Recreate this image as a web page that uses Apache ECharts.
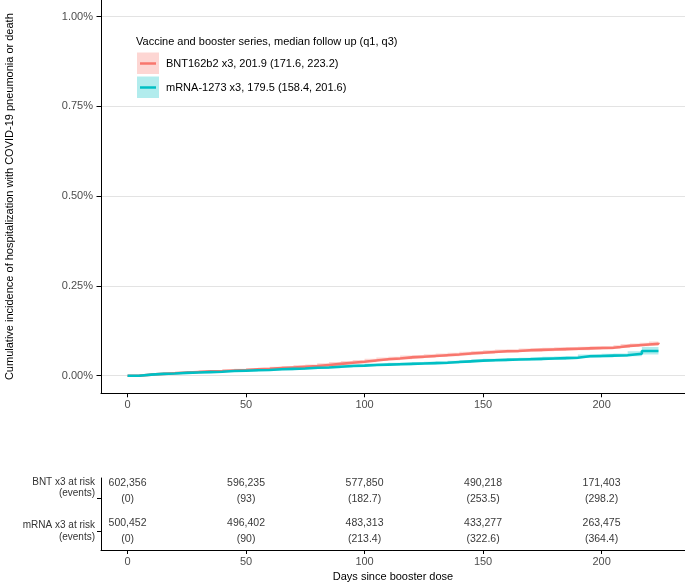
<!DOCTYPE html>
<html><head><meta charset="utf-8">
<script src="https://cdn.jsdelivr.net/npm/echarts@6/dist/echarts.min.js"></script>
<style>html,body{margin:0;padding:0;background:#fff}#c{width:685px;height:583px}</style>
</head><body><div id="c"></div>
<script>
// ---- data (cumulative incidence in %) ----
const xTicks = [0, 50, 100, 150, 200];
const yTicks = [0, 0.25, 0.5, 0.75, 1.0];

const bntName = 'BNT162b2 x3, 201.9 (171.6, 223.2)';
const mrnaName = 'mRNA-1273 x3, 179.5 (158.4, 201.6)';
const legendTitle = 'Vaccine and booster series, median follow up (q1, q3)';

const bntDays = [0,5,10,15,20,25,30,35,40,45,50,55,60,65,70,75,80,85,90,95,100,105,110,115,120,125,130,135,140,145,150,155,160,165,170,175,180,185,190,195,200,205,208,212,216,220,224];
const bntCum  = [0,0.003,0.005,0.007,0.009,0.0105,0.012,0.013,0.0145,0.016,0.0178,0.019,0.021,0.023,0.025,0.027,0.030,0.033,0.036,0.039,0.0425,0.046,0.048,0.051,0.053,0.055,0.057,0.059,0.062,0.064,0.066,0.068,0.069,0.071,0.072,0.073,0.074,0.075,0.076,0.077,0.078,0.080,0.083,0.085,0.087,0.089,0.092];
const bntLow  = [0,0.0015,0.0035,0.005,0.0065,0.008,0.009,0.010,0.0115,0.0125,0.0145,0.0155,0.017,0.019,0.0205,0.0225,0.025,0.028,0.031,0.034,0.0375,0.041,0.043,0.046,0.048,0.050,0.052,0.054,0.057,0.059,0.061,0.063,0.064,0.066,0.067,0.068,0.069,0.070,0.071,0.072,0.073,0.075,0.078,0.080,0.082,0.083,0.086];
const bntHigh = [0,0.0045,0.0065,0.009,0.0115,0.013,0.015,0.016,0.0175,0.0195,0.021,0.0225,0.025,0.027,0.0295,0.0315,0.035,0.038,0.041,0.044,0.0475,0.051,0.053,0.056,0.058,0.060,0.062,0.064,0.067,0.069,0.071,0.073,0.074,0.076,0.077,0.078,0.079,0.080,0.081,0.082,0.083,0.085,0.088,0.090,0.092,0.095,0.098];

const mrnaDays = [0,5,10,15,20,25,30,35,40,45,50,55,60,65,70,75,80,85,90,95,100,105,110,115,120,125,130,135,140,145,150,155,160,165,170,175,180,185,190,195,200,205,211,217,224];
const mrnaCum  = [0,0.003,0.005,0.006,0.008,0.009,0.010,0.011,0.013,0.014,0.015,0.016,0.018,0.019,0.020,0.022,0.023,0.025,0.027,0.028,0.030,0.031,0.032,0.033,0.034,0.035,0.036,0.038,0.040,0.042,0.043,0.044,0.045,0.046,0.047,0.048,0.049,0.050,0.054,0.055,0.056,0.057,0.061,0.069,0.069];
const mrnaLow  = [0,0.0015,0.003,0.004,0.0055,0.0065,0.0075,0.0085,0.010,0.011,0.012,0.013,0.0145,0.0155,0.0165,0.018,0.019,0.021,0.023,0.024,0.026,0.027,0.028,0.029,0.030,0.031,0.032,0.034,0.036,0.038,0.039,0.040,0.041,0.042,0.0425,0.0435,0.0445,0.0455,0.049,0.050,0.051,0.052,0.054,0.059,0.059];
const mrnaHigh = [0,0.0045,0.007,0.008,0.0105,0.0115,0.0125,0.0135,0.016,0.017,0.018,0.019,0.0215,0.0225,0.0235,0.026,0.027,0.029,0.031,0.032,0.034,0.035,0.036,0.037,0.038,0.039,0.040,0.042,0.044,0.046,0.047,0.048,0.049,0.050,0.0515,0.0525,0.0535,0.0545,0.059,0.060,0.061,0.062,0.068,0.080,0.080];

// risk table
const tableDays = [0, 50, 100, 150, 200];
const bntAtRisk = [602356, 596235, 577850, 490218, 171403];
const bntEvents = ['0', '93', '182.7', '253.5', '298.2'];
const mrnaAtRisk = [500452, 496402, 483313, 433277, 263475];
const mrnaEvents = ['0', '90', '213.4', '322.6', '364.4'];
const rowLabels = ['BNT x3 at risk\n(events)', 'mRNA x3 at risk\n(events)'];

// ---- chart ----
const FONT = 'Liberation Sans, Arial, Helvetica, sans-serif';
const RED = '#F8766D', TEAL = '#00BFC4';
const RED_BAND = 'rgba(248,118,109,0.3)', TEAL_BAND = 'rgba(0,191,196,0.3)';
const zip = (a, b) => a.map((v, i) => [v, b[i]]);
const fmt = n => n.toLocaleString('en-US');

// step ("end") polygon of a confidence band, mapped through the axes
function bandRenderer(days, lo, hi, color) {
  return function (params, api) {
    const up = [], dn = [];
    for (let i = 0; i < days.length; i++) {
      up.push(api.coord([days[i], hi[i]]));
      dn.push(api.coord([days[i], lo[i]]));
      if (i < days.length - 1) {
        up.push(api.coord([days[i + 1], hi[i]]));
        dn.push(api.coord([days[i + 1], lo[i]]));
      }
    }
    return {type: 'polygon', shape: {points: up.concat(dn.reverse())}, style: {fill: color}};
  };
}

const chart = echarts.init(document.getElementById('c'), null, {renderer: 'canvas'});
const axisLineStyle = {show: true, onZero: false, lineStyle: {color: '#000', width: 1}};

chart.setOption({
  animation: false,
  textStyle: {fontFamily: FONT},
  title: {
    text: legendTitle, left: 136, top: 36, padding: 0,
    textStyle: {fontFamily: FONT, fontSize: 11, fontWeight: 'normal', color: '#000'}
  },
  legend: [
    {
      data: [{name: 'BNT band', itemStyle: {color: RED_BAND}}, {name: 'mRNA band', itemStyle: {color: TEAL_BAND}}],
      left: 137, top: 52.5, orient: 'vertical', icon: 'rect', itemWidth: 22, itemHeight: 21.5, itemGap: 2.5,
      formatter: () => '', selectedMode: false, padding: 0, textStyle: {fontSize: 8}
    },
    {
      data: [{name: bntName}, {name: mrnaName}],
      left: 140, top: 56.5, orient: 'vertical', icon: 'rect', itemWidth: 16, itemHeight: 2.5, itemGap: 10,
      selectedMode: false, padding: 0,
      textStyle: {fontFamily: FONT, fontSize: 11, color: '#000', lineHeight: 14, padding: [0, 0, 0, 5]}
    }
  ],
  grid: [
    {left: 101, right: 0, top: 0, height: 393.3, containLabel: false, outerBoundsMode: 'none'},
    {left: 101, right: 0, top: 478, height: 72, containLabel: false, outerBoundsMode: 'none'}
  ],
  xAxis: [
    {
      type: 'value', gridIndex: 0, min: -11.2, max: 235.2,
      axisLine: axisLineStyle,
      axisTick: {show: true, customValues: xTicks, length: 4, lineStyle: {color: '#000'}},
      axisLabel: {customValues: xTicks, fontSize: 11, color: '#4d4d4d', margin: 6, fontFamily: FONT},
      splitLine: {show: false}
    },
    {
      type: 'value', gridIndex: 1, min: -11.2, max: 235.2,
      axisLine: axisLineStyle,
      axisTick: {show: true, customValues: xTicks, length: 4, lineStyle: {color: '#000'}},
      axisLabel: {customValues: xTicks, fontSize: 11, color: '#4d4d4d', margin: 6, fontFamily: FONT},
      splitLine: {show: false},
      name: 'Days since booster dose', nameLocation: 'middle', nameGap: 21,
      nameTextStyle: {fontSize: 11, color: '#000', fontFamily: FONT}
    }
  ],
  yAxis: [
    {
      type: 'value', gridIndex: 0, min: -0.049, max: 1.0465,
      axisLine: axisLineStyle,
      axisTick: {show: true, customValues: yTicks, length: 4.5, lineStyle: {color: '#000'}},
      axisLabel: {customValues: yTicks, fontSize: 11, color: '#4d4d4d', margin: 8, fontFamily: FONT,
        formatter: v => v.toFixed(2) + '%'},
      splitLine: {show: true, lineStyle: {color: '#e3e3e3', width: 1}},
      name: 'Cumulative incidence of hospitalization with COVID-19 pneumonia or death',
      nameLocation: 'middle', nameGap: 86,
      nameTextStyle: {fontSize: 11, color: '#000', fontFamily: FONT}
    },
    {
      type: 'value', gridIndex: 1, min: 0, max: 1.8,
      axisLine: axisLineStyle,
      axisTick: {show: true, customValues: [0.475, 1.3], length: 4, lineStyle: {color: '#000'}},
      axisLabel: {customValues: [0.47, 1.56], fontSize: 10, color: '#333', margin: 6, lineHeight: 11.5,
        fontFamily: FONT, align: 'right', formatter: v => (v > 1 ? rowLabels[0] : rowLabels[1])},
      splitLine: {show: false}
    }
  ],
  series: [
    {type: 'custom', name: 'BNT band', xAxisIndex: 0, yAxisIndex: 0, data: [[0, 0]], silent: true,
      color: RED_BAND, itemStyle: {color: RED_BAND}, z: 1,
      renderItem: bandRenderer(bntDays, bntLow, bntHigh, RED_BAND)},
    {type: 'custom', name: 'mRNA band', xAxisIndex: 0, yAxisIndex: 0, data: [[0, 0]], silent: true,
      color: TEAL_BAND, itemStyle: {color: TEAL_BAND}, z: 1,
      renderItem: bandRenderer(mrnaDays, mrnaLow, mrnaHigh, TEAL_BAND)},
    {type: 'line', name: bntName, step: 'end', data: zip(bntDays, bntCum), showSymbol: false,
      color: RED, itemStyle: {color: RED}, lineStyle: {color: RED, width: 2.6}, z: 3},
    {type: 'line', name: mrnaName, step: 'end', data: zip(mrnaDays, mrnaCum), showSymbol: false,
      color: TEAL, itemStyle: {color: TEAL}, lineStyle: {color: TEAL, width: 2.6}, z: 4},
    {type: 'scatter', xAxisIndex: 1, yAxisIndex: 1, symbolSize: 0, silent: true,
      data: tableDays.map((d, i) => [d, 1.475]),
      label: {show: true, position: 'inside', color: '#000', fontSize: 10.5, lineHeight: 16, fontFamily: FONT,
        formatter: p => fmt(bntAtRisk[p.dataIndex]) + '\n(' + bntEvents[p.dataIndex] + ')'}},
    {type: 'scatter', xAxisIndex: 1, yAxisIndex: 1, symbolSize: 0, silent: true,
      data: tableDays.map((d, i) => [d, 0.4675]),
      label: {show: true, position: 'inside', color: '#000', fontSize: 10.5, lineHeight: 16, fontFamily: FONT,
        formatter: p => fmt(mrnaAtRisk[p.dataIndex]) + '\n(' + mrnaEvents[p.dataIndex] + ')'}}
  ]
});
</script>
</body></html>
